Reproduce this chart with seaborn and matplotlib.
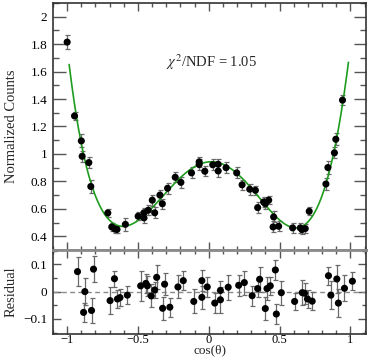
import numpy as np
import pandas as pd
import matplotlib
matplotlib.use("Agg")
import matplotlib.pyplot as plt
import seaborn as sns
from matplotlib.ticker import MultipleLocator, FuncFormatter

# ---------------- data ----------------
cos_top = [-1.0, -0.948, -0.90, -0.894, -0.847, -0.833, -0.713, -0.685, -0.664, -0.648,
           -0.589, -0.499, -0.458, -0.458, -0.427, -0.399, -0.382, -0.345, -0.328, -0.291,
           -0.237, -0.197, -0.122, -0.068, -0.068, -0.028, 0.028, 0.066, 0.066, 0.122,
           0.197, 0.235, 0.289, 0.329, 0.345, 0.387, 0.399, 0.423, 0.458, 0.454,
           0.493, 0.592, 0.646, 0.658, 0.681, 0.709, 0.827, 0.841, 0.887, 0.897,
           0.944]
counts = [1.815, 1.277, 1.095, 0.983, 0.937, 0.763, 0.570, 0.468, 0.453, 0.450,
          0.487, 0.546, 0.534, 0.571, 0.590, 0.663, 0.571, 0.700, 0.637, 0.750,
          0.830, 0.793, 0.862, 0.942, 0.923, 0.874, 0.921, 0.925, 0.876, 0.900,
          0.862, 0.775, 0.743, 0.735, 0.609, 0.650, 0.637, 0.663, 0.541, 0.468,
          0.473, 0.461, 0.461, 0.449, 0.456, 0.582, 0.781, 0.901, 1.008, 1.107,
          1.392]
counts_err = [0.050, 0.030, 0.048, 0.040, 0.040, 0.048, 0.030, 0.030, 0.030, 0.028,
              0.045, 0.030, 0.035, 0.035, 0.035, 0.040, 0.040, 0.040, 0.035, 0.040,
              0.035, 0.040, 0.040, 0.035, 0.040, 0.035, 0.040, 0.040, 0.045, 0.040,
              0.040, 0.035, 0.040, 0.035, 0.040, 0.035, 0.035, 0.030, 0.040, 0.040,
              0.035, 0.035, 0.035, 0.035, 0.035, 0.030, 0.045, 0.045, 0.040, 0.045,
              0.035]

# samples
fit_x = [-0.986, -0.939, -0.880, -0.821, -0.739, -0.587, -0.493, -0.399, -0.291, -0.197,
         -0.068, 0.028, 0.197, 0.289, 0.387, 0.493, 0.592, 0.622, 0.709, 0.827,
         0.892, 0.986]
fit_y = [1.664, 1.277, 0.983, 0.763, 0.570, 0.475, 0.504, 0.602, 0.748, 0.845,
         0.915, 0.925, 0.876, 0.760, 0.645, 0.517, 0.468, 0.466, 0.517, 0.760,
         1.076, 1.664]

cos_res = [-0.927, -0.884, -0.875, -0.828, -0.814, -0.697, -0.666, -0.645, -0.627, -0.575,
           -0.481, -0.444, -0.434, -0.406, -0.382, -0.368, -0.326, -0.312, -0.275, -0.218,
           -0.180, -0.106, -0.049, -0.049, -0.011, 0.042, 0.082, 0.082, 0.137, 0.211,
           0.251, 0.306, 0.345, 0.359, 0.399, 0.411, 0.434, 0.470, 0.477, 0.512,
           0.606, 0.660, 0.676, 0.697, 0.730, 0.845, 0.862, 0.904, 0.915, 0.958,
           1.014]
residual = [0.073, -0.076, 0.000, -0.069, 0.082, -0.033, 0.047, -0.027, -0.022, -0.013,
            0.021, 0.030, 0.021, -0.016, 0.006, 0.052, -0.061, 0.027, -0.057, 0.017,
            0.040, -0.036, 0.040, -0.021, 0.017, -0.042, 0.004, -0.030, 0.016, 0.023,
            0.033, -0.015, 0.011, 0.045, -0.062, 0.011, 0.021, 0.079, -0.082, -0.004,
            -0.036, -0.004, -0.006, -0.027, -0.035, 0.058, -0.013, 0.046, -0.042, 0.012,
            0.038]
residual_err = [0.052, 0.036, 0.048, 0.044, 0.047, 0.050, 0.029, 0.033, 0.031, 0.033,
                0.055, 0.036, 0.036, 0.042, 0.030, 0.044, 0.042, 0.041, 0.035, 0.042,
                0.035, 0.044, 0.039, 0.042, 0.036, 0.036, 0.033, 0.048, 0.045, 0.039,
                0.044, 0.036, 0.032, 0.045, 0.042, 0.042, 0.033, 0.036, 0.036, 0.044,
                0.031, 0.045, 0.039, 0.033, 0.034, 0.033, 0.052, 0.051, 0.050, 0.048,
                0.034]

chi_text = r"$\chi^2$/NDF = 1.05"

# ---------------- styling ----------------
sns.set_style("ticks")
plt.rcParams["font.family"] = ["Liberation Serif", "DejaVu Serif"]
plt.rcParams["mathtext.fontset"] = "stix"
plt.rcParams["axes.unicode_minus"] = True

fig = plt.figure(figsize=(3.74, 3.57), dpi=100)
W, H = 374.0, 357.0
L, R = 53 / W, 366 / W
ax1 = fig.add_axes([L, 1 - 250 / H, R - L, (250 - 3) / H])
ax2 = fig.add_axes([L, 1 - 334 / H, R - L, (334 - 250) / H])

top_df = pd.DataFrame({"cos": cos_top, "counts": counts, "err": counts_err})
res_df = pd.DataFrame({"cos": cos_res, "res": residual, "err": residual_err})

# fit curve (smooth polynomial through the read curve samples)
coef = np.polyfit(fit_x, fit_y, 8)
xx = np.linspace(min(fit_x), max(fit_x), 400)
curve_df = pd.DataFrame({"cos": xx, "fit": np.polyval(coef, xx)})

ecol = "#6a6a6a"
ax1.errorbar(top_df["cos"], top_df["counts"], yerr=top_df["err"], fmt="none",
             ecolor=ecol, elinewidth=0.9, capsize=1.8, capthick=0.9, zorder=2)
sns.lineplot(data=curve_df, x="cos", y="fit", ax=ax1, color="#1f9c1f", lw=1.2,
             zorder=3, legend=False)
sns.scatterplot(data=top_df, x="cos", y="counts", ax=ax1, color="black",
                s=26, edgecolor="none", zorder=4, legend=False)
ax1.text(0.02, 1.669, chi_text, ha="center", va="center", fontsize=10.5)

ax2.axhline(0, color="#8a8a8a", lw=1.0, ls=(0, (3.5, 2.5)), zorder=1)
ax2.errorbar(res_df["cos"], res_df["res"], yerr=res_df["err"], fmt="none",
             ecolor=ecol, elinewidth=0.9, capsize=1.8, capthick=0.9, zorder=2)
sns.scatterplot(data=res_df, x="cos", y="res", ax=ax2, color="black",
                s=26, edgecolor="none", zorder=4, legend=False)

fmt = FuncFormatter(lambda v, p: ("%g" % round(v, 6)).replace("-", "\u2212"))

for ax in (ax1, ax2):
    ax.set_xlim(-1.1, 1.11)
    ax.xaxis.set_major_locator(MultipleLocator(0.5))
    ax.xaxis.set_minor_locator(MultipleLocator(0.1))
    ax.tick_params(which="both", direction="in", top=True, right=True,
                   colors="#555555", labelcolor="black", labelsize=9.5, width=1.0)
    ax.tick_params(which="major", length=6)
    ax.tick_params(which="minor", length=3)
    for s in ax.spines.values():
        s.set_color("#333333")
        s.set_linewidth(1.2)
    ax.yaxis.set_major_formatter(fmt)
    ax.xaxis.set_major_formatter(fmt)

ax1.set_ylim(0.3, 2.1)
ax1.yaxis.set_major_locator(MultipleLocator(0.2))
ax1.yaxis.set_minor_locator(MultipleLocator(0.1))
ax1.tick_params(axis="y", which="major", length=9, pad=4)
ax1.tick_params(axis="y", which="minor", length=4.5)
ax1.tick_params(labelbottom=False)
ax1.spines["bottom"].set_color("#8a8a8a")
ax1.spines["bottom"].set_linewidth(2.0)
ax1.set_xlabel("")
ax1.set_ylabel("Normalized Counts", fontsize=10.5)
ax1.yaxis.set_label_coords(-0.112, 0.5)

ax2.set_ylim(-0.155, 0.152)
ax2.yaxis.set_major_locator(MultipleLocator(0.1))
ax2.yaxis.set_minor_locator(MultipleLocator(0.05))
ax2.tick_params(axis="y", which="major", length=6, pad=4)
ax2.tick_params(axis="x", which="major", pad=0, labelsize=9)
ax2.spines["top"].set_color("#8a8a8a")
ax2.spines["top"].set_linewidth(2.0)
ax2.set_ylabel("Residual", fontsize=10.5)
ax2.yaxis.set_label_coords(-0.112, 0.5)
ax2.set_xlabel("cos(\u03b8)", fontsize=9.5, labelpad=0)
ax2.xaxis.set_label_coords(0.5, -0.125)

fig.savefig("out.png", dpi=100)
